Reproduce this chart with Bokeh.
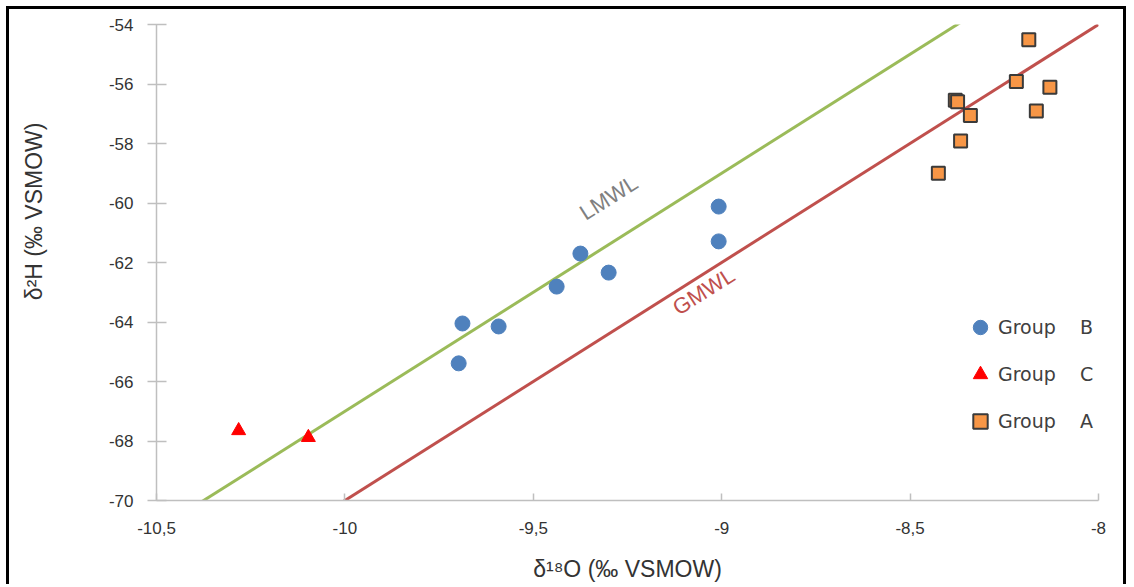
from bokeh.plotting import figure
from bokeh.models import Range1d, FixedTicker, Legend, LegendItem
from bokeh.core.properties import value
from bokeh.embed import file_html
from bokeh.resources import INLINE

# ---- data ----
group_b_x = [-9.688, -9.698, -9.592, -9.438, -9.375, -9.300, -9.008, -9.008]
group_b_y = [-64.05, -65.39, -64.15, -62.81, -61.70, -62.34, -60.12, -61.29]

group_c_x = [-10.282, -10.097]
group_c_y = [-67.65, -67.88]

group_a_x = [-8.185, -8.218, -8.129, -8.380, -8.374, -8.340, -8.165, -8.366, -8.425]
group_a_y = [-54.51, -55.92, -56.11, -56.55, -56.60, -57.06, -56.91, -57.92, -59.00]

# meteoric water lines: dH = slope * dO + intercept
lmwl_slope, lmwl_intercept = 8.0, 13.0
gmwl_slope, gmwl_intercept = 8.0, 10.0

x_ticks = [-10.5, -10.0, -9.5, -9.0, -8.5, -8.0]
x_tick_labels = ["-10,5", "-10", "-9,5", "-9", "-8,5", "-8"]
y_ticks = [-70, -68, -66, -64, -62, -60, -58, -56, -54]
y_tick_labels = ["-70", "-68", "-66", "-64", "-62", "-60", "-58", "-56", "-54"]

x_label = "δ¹⁸O (‰ VSMOW)"
y_label = "δ²H (‰ VSMOW)"
legend_labels = ["Group    B", "Group    C", "Group    A"]

# ---- figure ----
p = figure(width=1120, height=578, output_backend="svg", toolbar_location=None,
           x_range=Range1d(x_ticks[0], x_ticks[-1]), y_range=Range1d(y_ticks[0], y_ticks[-1]),
           min_border_left=147, min_border_right=31, min_border_top=15, min_border_bottom=87)
p.styles = {"margin-left": "6px", "margin-top": "6px",
            "border-top": "3px solid black", "border-left": "3px solid black",
            "border-right": "3px solid black"}
p.outline_line_color = None
p.grid.visible = False
p.background_fill_color = "white"
p.border_fill_color = "white"

FONT = "Liberation Sans"
TXT = "#333333"
for ax in (p.xaxis[0], p.yaxis[0]):
    ax.axis_line_color = "#BFBFBF"
    ax.axis_line_width = 1.5
    ax.major_tick_line_color = "#BFBFBF"
    ax.major_tick_line_width = 1.5
    ax.minor_tick_line_color = None
    ax.major_label_text_font = FONT
    ax.major_label_text_font_size = "17px"
    ax.major_label_text_color = TXT
    ax.axis_label_text_font = FONT
    ax.axis_label_text_font_size = "23px"
    ax.axis_label_text_font_style = "normal"
    ax.axis_label_text_color = TXT

p.xaxis[0].ticker = FixedTicker(ticks=x_ticks)
p.xaxis[0].major_label_overrides = {t: l for t, l in zip(x_ticks, x_tick_labels)}
p.xaxis[0].major_tick_in = 7
p.xaxis[0].major_tick_out = 0
p.xaxis[0].major_label_standoff = 21
p.xaxis[0].axis_label = x_label
p.xaxis[0].axis_label_standoff = 19

p.yaxis[0].ticker = FixedTicker(ticks=y_ticks)
p.yaxis[0].major_label_overrides = {t: l for t, l in zip(y_ticks, y_tick_labels)}
p.yaxis[0].major_tick_in = 10
p.yaxis[0].major_tick_out = 9
p.yaxis[0].major_label_standoff = 14
# leading no-break spaces move the visible title up along the axis, as in the original
p.yaxis[0].axis_label = "\u00a0" * 16 + y_label
p.yaxis[0].axis_label_standoff = 59

# lines
lx = [x_ticks[0], x_ticks[-1]]
p.line(lx, [lmwl_slope * v + lmwl_intercept for v in lx], line_color="#9BBB59", line_width=3)
p.line(lx, [gmwl_slope * v + gmwl_intercept for v in lx], line_color="#C0504D", line_width=3)

p.text(x=[-9.30], y=[-59.82], text=["LMWL"], angle=32.4, angle_units="deg",
       text_align="center", text_baseline="middle", text_color="#808080",
       text_font=value(FONT), text_font_size="22px")
p.text(x=[-9.048], y=[-62.97], text=["GMWL"], angle=32.4, angle_units="deg",
       text_align="center", text_baseline="middle", text_color="#C0504D",
       text_font=value(FONT), text_font_size="22px")

rb = p.scatter(group_b_x, group_b_y, marker="circle", size=15, fill_color="#4F81BD",
               line_color="#4F81BD")
rc = p.scatter(group_c_x, group_c_y, marker="triangle", size=14, fill_color="#FF0000",
               line_color="#FF0000")
ra = p.scatter(group_a_x, group_a_y, marker="square", size=13, fill_color="#F79646",
               line_color="#3A3A3A", line_width=2)

legend = Legend(items=[LegendItem(label=legend_labels[0], renderers=[rb]),
                       LegendItem(label=legend_labels[1], renderers=[rc]),
                       LegendItem(label=legend_labels[2], renderers=[ra])],
                location=(806, 61), padding=0, margin=0, spacing=11,
                glyph_width=36, glyph_height=36, label_standoff=0,
                label_text_font="DejaVu Sans", label_text_font_size="19px",
                label_text_color="#404040", background_fill_alpha=0,
                border_line_color=None)
p.add_layout(legend)

open("out.html", "w").write(file_html(p, INLINE))
